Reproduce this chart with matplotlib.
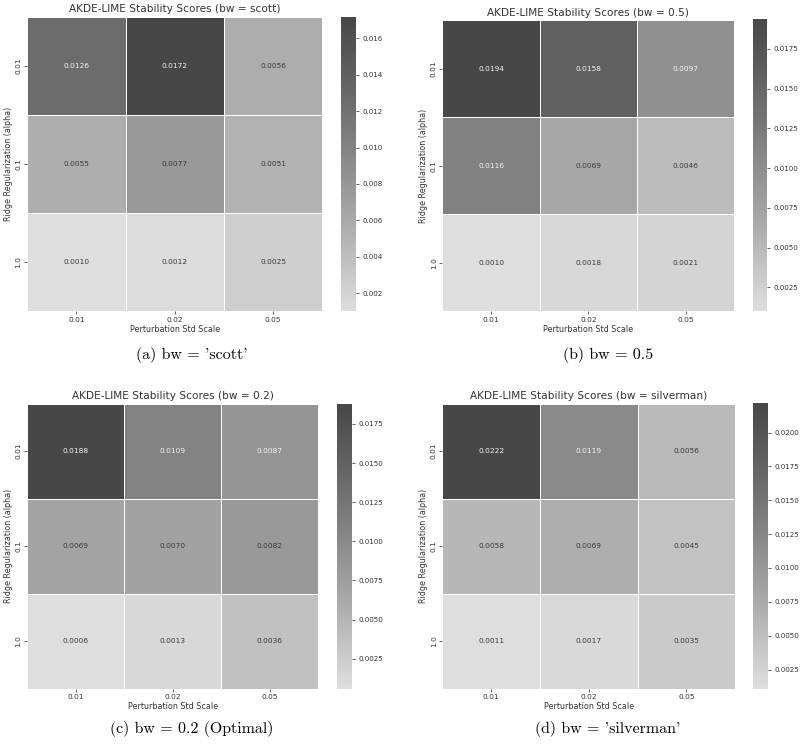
import matplotlib
matplotlib.use('Agg')
import matplotlib.pyplot as plt
from matplotlib.colors import LinearSegmentedColormap, Normalize
import numpy as np

# stability scores, rows = alpha (0.01, 0.1, 1.0), cols = perturbation std scale
alphas = ['0.01', '0.1', '1.0']
scales = ['0.01', '0.02', '0.05']

scores_scott = [[0.0126, 0.0172, 0.0056],
                [0.0055, 0.0077, 0.0051],
                [0.0010, 0.0012, 0.0025]]
scores_05 = [[0.0194, 0.0158, 0.0097],
             [0.0116, 0.0069, 0.0046],
             [0.0010, 0.0018, 0.0021]]
scores_02 = [[0.0188, 0.0109, 0.0087],
             [0.0069, 0.0070, 0.0082],
             [0.0006, 0.0013, 0.0036]]
scores_silverman = [[0.0222, 0.0119, 0.0056],
                    [0.0058, 0.0069, 0.0045],
                    [0.0011, 0.0017, 0.0035]]

titles = ['AKDE-LIME Stability Scores (bw = scott)',
          'AKDE-LIME Stability Scores (bw = 0.5)',
          'AKDE-LIME Stability Scores (bw = 0.2)',
          'AKDE-LIME Stability Scores (bw = silverman)']
captions = ["(a) bw = 'scott'", "(b) bw = 0.5",
            "(c) bw = 0.2 (Optimal)", "(d) bw = 'silverman'"]

cmap = LinearSegmentedColormap.from_list(
    'greyish', [(0.0, '#dedede'), (0.3, '#aaaaaa'), (0.7, '#6e6e6e'), (1.0, '#474747')])

fig = plt.figure(figsize=(8, 7.5), dpi=100)

# [heatmap rect, colorbar rect, caption x, caption y] in figure fractions
panels = [
    ([0.034, 0.585, 0.369, 0.393], [0.426, 0.585, 0.019, 0.393], 0.240, 0.527),
    ([0.553, 0.585, 0.365, 0.388], [0.941, 0.585, 0.018, 0.390], 0.760, 0.527),
    ([0.034, 0.082, 0.364, 0.380], [0.421, 0.082, 0.019, 0.380], 0.240, 0.028),
    ([0.553, 0.082, 0.366, 0.380], [0.941, 0.082, 0.019, 0.381], 0.760, 0.028),
]
all_scores = [scores_scott, scores_05, scores_02, scores_silverman]

for scores, title, cap, (hrect, crect, cx, cy) in zip(all_scores, titles, captions, panels):
    data = np.array(scores)
    ax = fig.add_axes(hrect)
    cax = fig.add_axes(crect)
    norm = Normalize(vmin=data.min(), vmax=data.max())
    mesh = ax.pcolormesh(data, cmap=cmap, norm=norm, edgecolors='white', linewidth=0.5)
    ax.set_xlim(0, 3)
    ax.set_ylim(3, 0)
    for i in range(3):
        for j in range(3):
            v = data[i, j]
            col = '#f4f4f4' if norm(v) > 0.44 else '#3a3a3a'
            ax.text(j + 0.5, i + 0.5, f'{v:.4f}', ha='center', va='center',
                    fontsize=5.3, color=col)
    ax.set_xticks(np.arange(3) + 0.5)
    ax.set_xticklabels(scales, fontsize=5.3)
    ax.set_yticks(np.arange(3) + 0.5)
    ax.set_yticklabels(alphas, fontsize=5.3, rotation=90, va='center')
    ax.tick_params(length=2.5, width=0.6, color='#444444', labelcolor='#333333', pad=1.5)
    for s in ax.spines.values():
        s.set_visible(False)
    ax.set_xlabel('Perturbation Std Scale', fontsize=5.8, color='#333333', labelpad=1.5)
    ax.set_ylabel('Ridge Regularization (alpha)', fontsize=5.8, color='#333333', labelpad=2)
    ax.set_title(title, fontsize=7.6, color='#333333', pad=3)

    cb = fig.colorbar(mesh, cax=cax)
    cb.outline.set_visible(False)
    cb.ax.tick_params(labelsize=5.1, length=2.5, width=0.6, color='#444444',
                      labelcolor='#333333', pad=2)

    fig.text(cx, cy, cap, ha='center', va='center', fontsize=11.5, family='cmr10')

plt.savefig('out.png', dpi=100)
